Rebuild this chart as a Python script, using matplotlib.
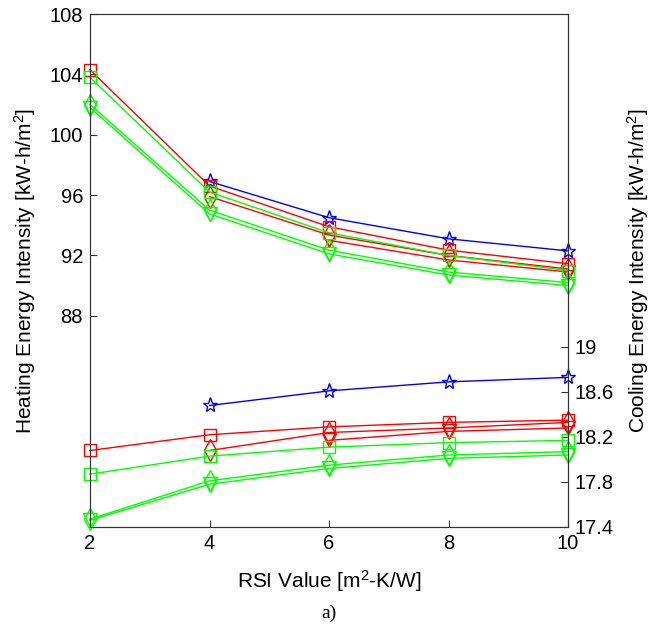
import numpy as np
import matplotlib
matplotlib.use("Agg")
import matplotlib.pyplot as plt

plt.rcParams['font.family'] = ['Liberation Sans', 'DejaVu Sans']
plt.rcParams['mathtext.fontset'] = 'custom'
plt.rcParams['mathtext.rm'] = 'Liberation Sans'
plt.rcParams['mathtext.it'] = 'Liberation Sans'

rsi = [2, 4, 6, 8, 10]
nan = np.nan

# Heating energy intensity [kW-h/m2]
heat_blue_star = [nan, 96.9, 94.5, 93.1, 92.3]
heat_red_square = [104.3, 96.6, 93.9, 92.35, 91.45]
heat_red_diamond = [nan, 95.9, 93.35, 92.0, 91.1]
heat_red_tri = [nan, nan, 93.0, 91.7, 90.9]
heat_green_square = [103.8, 96.2, 93.5, 92.0, 91.0]
heat_green_diamond = [102.0, 95.0, 92.35, 90.9, 90.2]
heat_green_tri = [101.8, 94.75, 92.1, 90.7, 90.0]

# Cooling energy intensity [kW-h/m2]
cool_blue_star = [nan, 18.48, 18.61, 18.69, 18.73]
cool_red_square = [18.08, 18.22, 18.29, 18.33, 18.35]
cool_red_diamond = [nan, 18.08, 18.24, 18.28, 18.33]
cool_red_tri = [nan, nan, 18.17, 18.25, 18.28]
cool_green_square = [17.87, 18.03, 18.11, 18.15, 18.17]
cool_green_diamond = [17.47, 17.81, 17.95, 18.04, 18.07]
cool_green_tri = [17.46, 17.78, 17.92, 18.01, 18.04]

left_ticks = [88, 92, 96, 100, 104, 108]
right_ticks = [17.4, 17.8, 18.2, 18.6, 19.0]
right_ticklabels = ['17.4', '17.8', '18.2', '18.6', '19']

fig = plt.figure(figsize=(6.59, 6.34), dpi=100)
ax = fig.add_axes([90/659, 1-527/634, (568-90)/659, (527-14)/634])
ax2 = ax.twinx()

series = [
    (heat_blue_star, cool_blue_star, (0, 0, 1), '*', 11),
    (heat_red_square, cool_red_square, (1, 0, 0), 's', 9),
    (heat_red_diamond, cool_red_diamond, (1, 0, 0), 'd', 11),
    (heat_red_tri, cool_red_tri, (1, 0, 0), 'v', 10),
    (heat_green_square, cool_green_square, (0, 1, 0), 's', 9),
    (heat_green_diamond, cool_green_diamond, (0, 1, 0), 'd', 11),
    (heat_green_tri, cool_green_tri, (0, 1, 0), 'v', 10),
]
for h, c, col, m, ms in series:
    ax.plot(rsi, h, color=col, marker=m, ms=ms, mfc='none', mec=col, lw=1, mew=1, clip_on=False)
    ax2.plot(rsi, c, color=col, marker=m, ms=ms, mfc='none', mec=col, lw=1, mew=1, clip_on=False)

ax.set_xlim(2, 10)
ax.set_ylim(74, 108)
ax2.set_ylim(17.4, 21.96)
ax.set_xticks(rsi)
ax.set_yticks(left_ticks)
ax2.set_yticks(right_ticks)
ax2.set_yticklabels(right_ticklabels)

for a in (ax, ax2):
    a.tick_params(direction='in', labelsize=14.5, length=5, width=0.8, color='#333333', pad=5)
    for s in a.spines.values():
        s.set_color('#333333')
        s.set_linewidth(0.8)

ax.set_xlabel('RSI Value [m$^2$-K/W]', fontsize=15, labelpad=11)
ax.set_ylabel('Heating Energy Intensity [kW-h/m$^2$]', fontsize=15, labelpad=8)
ax2.set_ylabel('Cooling Energy Intensity [kW-h/m$^2$]', fontsize=15, labelpad=8)

fig.text(329/659, 1-613/634, 'a)', ha='center', va='center', fontsize=14,
         family=['Liberation Serif', 'DejaVu Serif'])

fig.savefig('out.png', dpi=100)
